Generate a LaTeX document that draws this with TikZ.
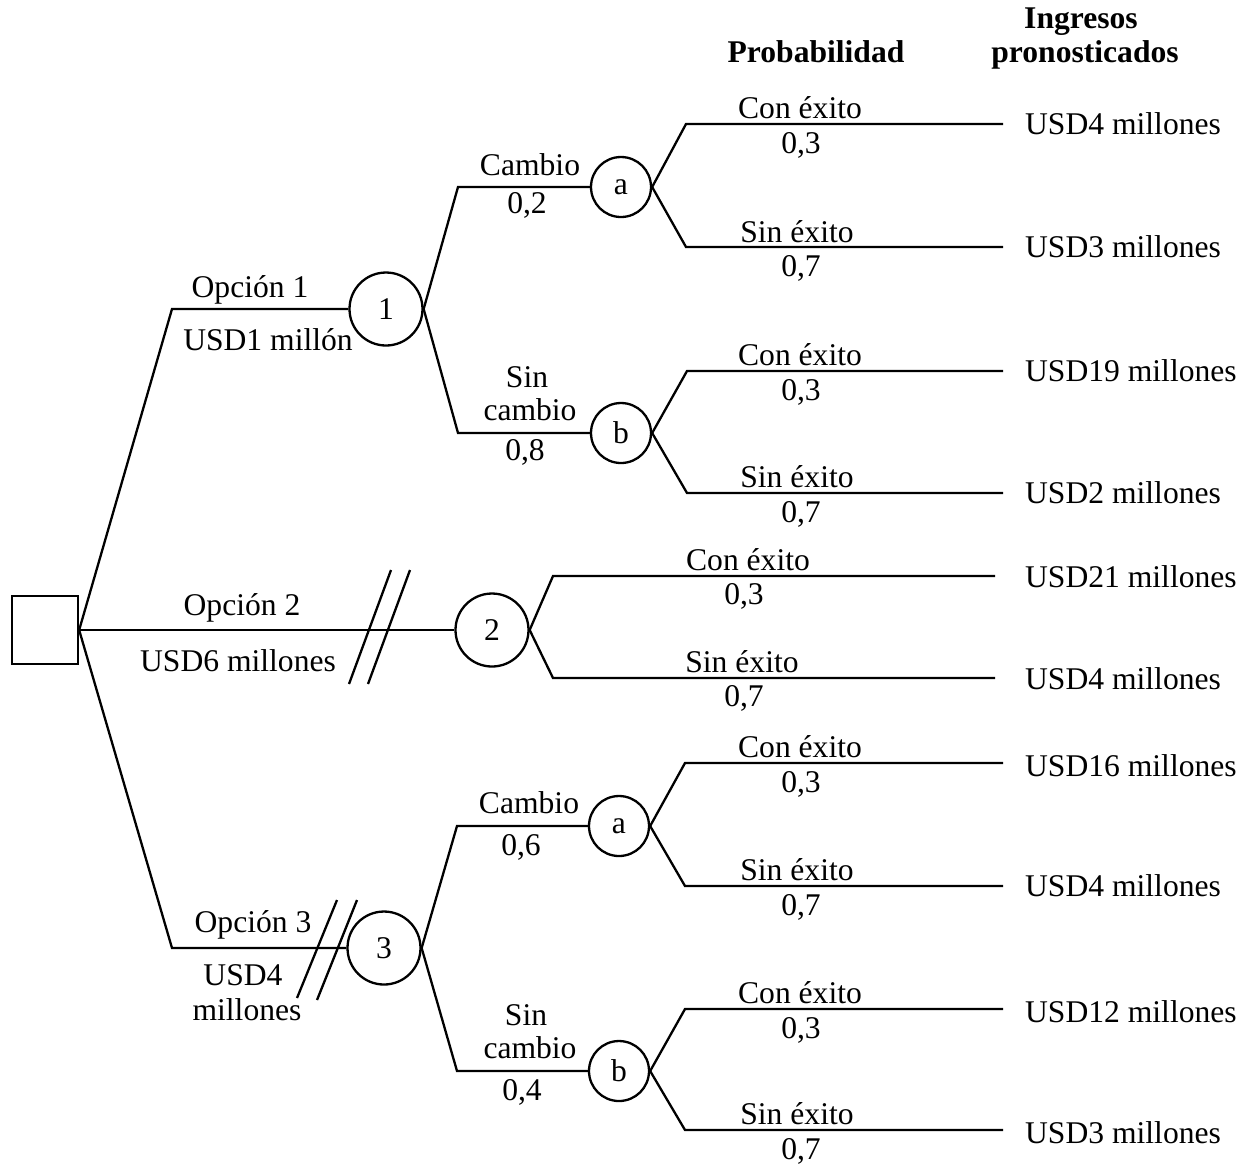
\documentclass[tikz,border=0pt]{standalone}
\usepackage{fontspec}
\setmainfont{Liberation Serif}
\begin{document}
\begin{tikzpicture}[x=0.5pt,y=-0.5pt,line width=1.15pt,
  font=\fontsize{15.8}{19}\selectfont,
  big/.style={circle,draw,minimum size=36.5pt,inner sep=0pt},
  small/.style={circle,draw,minimum size=30pt,inner sep=0pt},
  lbl/.style={anchor=base,inner sep=0pt},
  hdr/.style={anchor=base,inner sep=0pt,font=\fontsize{15.8}{19}\selectfont\bfseries},
  leaf/.style={anchor=base west,inner sep=0pt}]
\useasboundingbox (0,0) rectangle (1256,1164);
% decision node
\node[draw,minimum width=33pt,minimum height=34pt,inner sep=0pt] (sq) at (45,630) {};
% chance nodes
\node[big] (c1) at (386,309) {1};
\node[big] (c2) at (492,630) {2};
\node[big] (c3) at (384,948) {3};
\node[small] (a1) at (621,187) {a};
\node[small] (b1) at (621,433) {b};
\node[small] (a3) at (619,826) {a};
\node[small] (b3) at (619,1071) {b};
% leaf end points
\coordinate (e1) at (1003,124);
\coordinate (e2) at (1003,247);
\coordinate (e3) at (1003,371);
\coordinate (e4) at (1003,493);
\coordinate (e5) at (995,576);
\coordinate (e6) at (995,678);
\coordinate (e7) at (1003,763);
\coordinate (e8) at (1003,886);
\coordinate (e9) at (1003,1009);
\coordinate (e10) at (1003,1130);
% connectors
\draw (sq.east) -- (172,309) -- (c1.west);
\draw (sq.east) -- (c2.west);
\draw (sq.east) -- (172,948) -- (c3.west);
\draw (c1.east) -- (458,187) -- (a1.west);
\draw (c1.east) -- (458,433) -- (b1.west);
\draw (c3.east) -- (457,826) -- (a3.west);
\draw (c3.east) -- (457,1071) -- (b3.west);
\draw (a1.east) -- (686,124) -- (e1);
\draw (a1.east) -- (686,247) -- (e2);
\draw (b1.east) -- (687,371) -- (e3);
\draw (b1.east) -- (687,493) -- (e4);
\draw (c2.east) -- (553,576) -- (e5);
\draw (c2.east) -- (553,678) -- (e6);
\draw (a3.east) -- (685,763) -- (e7);
\draw (a3.east) -- (685,886) -- (e8);
\draw (b3.east) -- (685,1009) -- (e9);
\draw (b3.east) -- (685,1130) -- (e10);
% slash marks
\draw (349,684) -- (391,570);
\draw (368,684) -- (410,570);
\draw (297,998) -- (337,900);
\draw (317,1000) -- (357,900);
% headers
\node[hdr] (hp) at (816,62) {Probabilidad};
\node[hdr] (hi1) at (1081,28) {Ingresos};
\node[hdr] (hi2) at (1085,62) {pronosticados};
% option labels
\node[lbl] (o1) at (250,297) {Opción 1};
\node[lbl] (o1c) at (268,350) {USD1 millón};
\node[lbl] (o2) at (242,615) {Opción 2};
\node[lbl] (o2c) at (238,671) {USD6 millones};
\node[lbl] (o3) at (253,932) {Opción 3};
\node[lbl] (o3c) at (243,985) {USD4};
\node[lbl] (o3d) at (247,1020) {millones};
% middle labels
\node[lbl] (m1) at (530,175) {Cambio};
\node[lbl] (m1p) at (527,213) {0,2};
\node[lbl] (m2a) at (527,387) {Sin};
\node[lbl] (m2b) at (530,420) {cambio};
\node[lbl] (m2p) at (525,460) {0,8};
\node[lbl] (m3) at (529,813) {Cambio};
\node[lbl] (m3p) at (521,855) {0,6};
\node[lbl] (m4a) at (526,1025) {Sin};
\node[lbl] (m4b) at (530,1058) {cambio};
\node[lbl] (m4p) at (522,1100) {0,4};
% outcome labels
\node[lbl] (t1) at (800,118) {Con éxito};
\node[lbl] (p1) at (801,153) {0,3};
\node[lbl] (t2) at (797,242) {Sin éxito};
\node[lbl] (p2) at (801,276) {0,7};
\node[lbl] (t3) at (800,365) {Con éxito};
\node[lbl] (p3) at (801,400) {0,3};
\node[lbl] (t4) at (797,487) {Sin éxito};
\node[lbl] (p4) at (801,522) {0,7};
\node[lbl] (t5) at (748,570) {Con éxito};
\node[lbl] (p5) at (744,604) {0,3};
\node[lbl] (t6) at (742,672) {Sin éxito};
\node[lbl] (p6) at (744,706) {0,7};
\node[lbl] (t7) at (800,757) {Con éxito};
\node[lbl] (p7) at (801,792) {0,3};
\node[lbl] (t8) at (797,880) {Sin éxito};
\node[lbl] (p8) at (801,915) {0,7};
\node[lbl] (t9) at (800,1003) {Con éxito};
\node[lbl] (p9) at (801,1038) {0,3};
\node[lbl] (t10) at (797,1124) {Sin éxito};
\node[lbl] (p10) at (801,1159) {0,7};
% revenues
\node[leaf] (r1) at (1024,134) {USD4 millones};
\node[leaf] (r2) at (1024,257) {USD3 millones};
\node[leaf] (r3) at (1024,381) {USD19 millones};
\node[leaf] (r4) at (1024,503) {USD2 millones};
\node[leaf] (r5) at (1024,587) {USD21 millones};
\node[leaf] (r6) at (1024,689) {USD4 millones};
\node[leaf] (r7) at (1024,776) {USD16 millones};
\node[leaf] (r8) at (1024,896) {USD4 millones};
\node[leaf] (r9) at (1024,1022) {USD12 millones};
\node[leaf] (r10) at (1024,1143) {USD3 millones};
\end{tikzpicture}
\end{document}
